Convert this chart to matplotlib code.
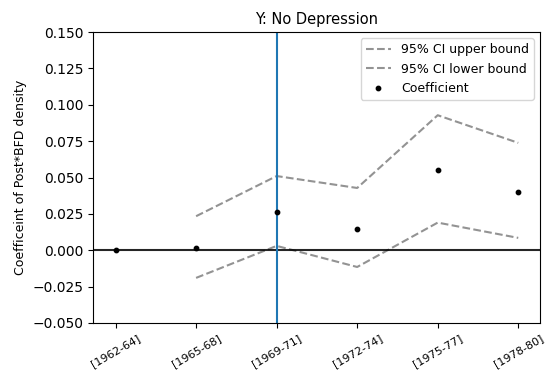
import numpy as np
import matplotlib
matplotlib.use("Agg")
import matplotlib.pyplot as plt

periods = ["[1962-64]", "[1965-68]", "[1969-71]", "[1972-74]", "[1975-77]", "[1978-80]"]
coef = [0.0, 0.0016, 0.0266, 0.0144, 0.0550, 0.0403]
upper = [np.nan, 0.0234, 0.0510, 0.0428, 0.0928, 0.0738]
lower = [np.nan, -0.0190, 0.0030, -0.0115, 0.0190, 0.0085]

fig = plt.figure(figsize=(5.47, 3.79), dpi=100)
ax = fig.add_axes([93/547, 1-323/379, (540-93)/547, (323-32)/379])
x = np.arange(len(periods))
ax.plot(x, upper, ls="--", color="grey", alpha=0.85, label="95% CI upper bound")
ax.plot(x, lower, ls="--", color="grey", alpha=0.85, label="95% CI lower bound")
ax.scatter(x, coef, color="black", s=10, label="Coefficient", zorder=3)
ax.axhline(0, color="black", alpha=0.85)
ax.axvline(2, color="C0")
ax.set_ylim(-0.05, 0.15)
ax.set_xlim(-0.28, 5.27)
ax.set_xticks(x)
ax.set_xticklabels(periods, rotation=30, fontsize=8)
yt = np.arange(-0.05, 0.1501, 0.025)
ax.set_yticks(yt)
ax.set_yticklabels([f"{v:.3f}".replace("-", "\u2212") for v in yt])
ax.set_ylabel("Coefficeint of Post*BFD density", fontsize=9)
ax.set_title("Y: No Depression", fontsize=10.5)
ax.legend(loc="upper right", fontsize=9)
fig.savefig("out.png", dpi=100)
